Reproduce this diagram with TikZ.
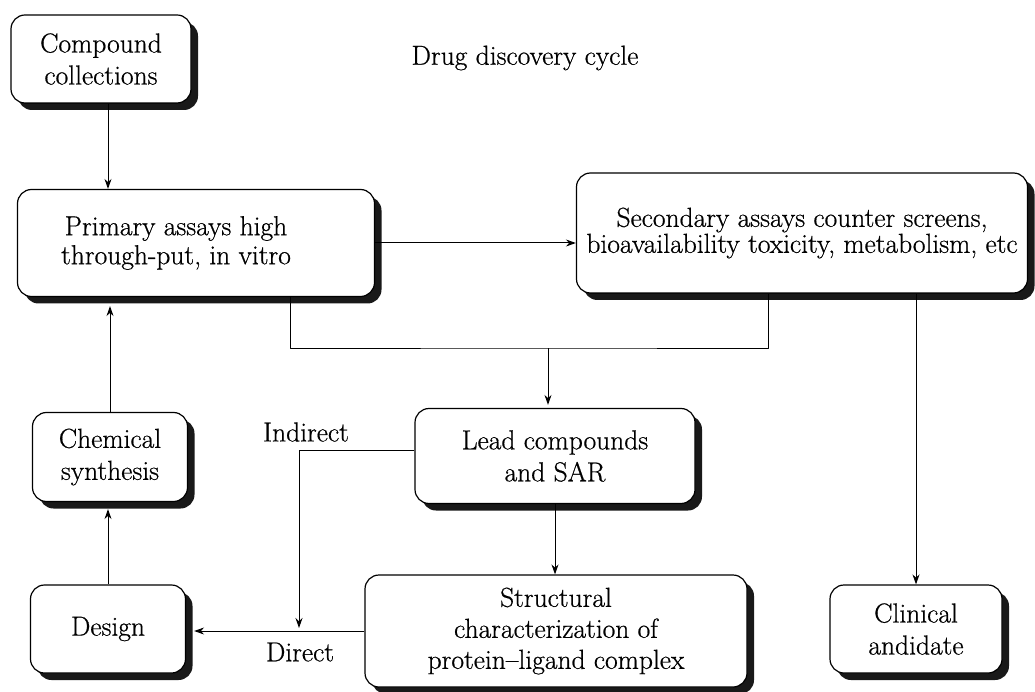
\documentclass[tikz,border=0pt]{standalone}
\usepackage{fontspec}
\newfontfamily\diagfont{Latin Modern Roman}[Ligatures=TeX,FakeBold=0.6]
\usetikzlibrary{arrows.meta,shadows}
\newcommand\boxfont[1]{\diagfont\fontsize{27.5}{#1}\selectfont}

\begin{document}
\begin{tikzpicture}[x=1pt,y=-1pt,line join=round,
  every node/.style={font=\boxfont{32}},
  box/.style={draw,line width=1.2pt,rounded corners=14pt,fill=white,align=center,inner sep=0pt,
    drop shadow={shadow xshift=7pt,shadow yshift=-7pt,fill=black!90,opacity=1}},
  arr/.style={line width=1pt,-{Stealth[length=10pt,width=7pt]}}]
  \useasboundingbox (0,0) rectangle (1035,692);
  \node (title) at (525,58) {Drug discovery cycle};
  \node[box,minimum width=180pt,minimum height=88pt] (coll) at (101,59) {Compound\\collections};
  \node[box,minimum width=357pt,minimum height=107pt,font=\boxfont{29}] (prim) at (196,243)
    {Primary assays high\hspace*{40pt}\\through-put, in vitro\hspace*{40pt}};
  \node[box,minimum width=451pt,minimum height=120pt,font=\boxfont{26}] (sec) at (802,233)
    {Secondary assays counter screens,\\bioavailability toxicity, metabolism, etc};
  \node[box,minimum width=280pt,minimum height=95pt] (lead) at (555,456) {Lead compounds\\and SAR};
  \node[box,minimum width=155pt,minimum height=89pt] (chem) at (110,457) {Chemical\\synthesis};
  \node[box,minimum width=155pt,minimum height=88pt] (design) at (108,629) {Design};
  \node[box,minimum width=382pt,minimum height=112pt,font=\boxfont{31}] (struct) at (556,631)
    {Structural\\characterization of\\protein--ligand complex};
  \node[box,minimum width=172pt,minimum height=88pt] (clin) at (916,629) {Clinical\\andidate};
  \node (ind) at (306,432) {Indirect};
  \node (dir) at (300,652) {Direct};
  \coordinate (mrg) at (548,348);
  \coordinate (dj) at (299,633);
  % connectors
  \draw[arr] ([xshift=7pt]coll.south) -- ([xshift=7pt]coll.south |- prim.north);
  \draw[arr] (chem.north) -- ([yshift=-9pt]chem.north |- prim.south);
  \draw[arr] (design.north) -- ([yshift=-7pt]design.north |- chem.south);
  \draw[arr] (prim.east) -- (prim.east -| sec.west);
  \draw[line width=1pt] ([xshift=94pt]prim.south) |- (mrg) -| ([xshift=-34pt]sec.south);
  \draw[arr] (mrg) -- ([yshift=3pt]mrg |- lead.north);
  \draw[arr] (sec.south -| clin.north) -- (clin.north);
  \draw[arr] (lead.south) -- (lead.south |- struct.north);
  \draw[arr] ([yshift=6pt]lead.west) -| ([yshift=5pt]dj);
  \draw[arr] (struct.west) -- ([xshift=8pt]design.east |- struct.west);
\end{tikzpicture}
\end{document}
